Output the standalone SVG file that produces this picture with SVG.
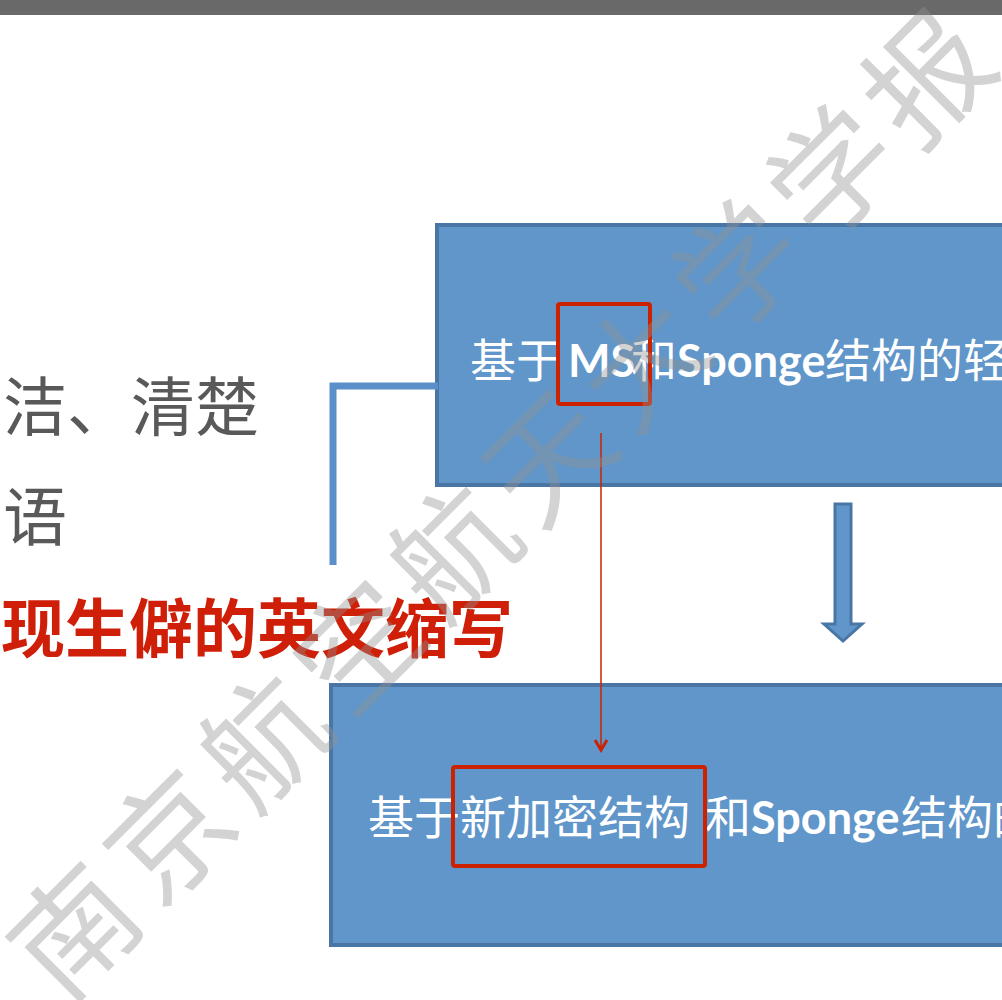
<svg xmlns="http://www.w3.org/2000/svg" width="1002" height="1000" viewBox="0 0 1002 1000">
<defs>
<style>
.box{fill:#6096c9;stroke:#4a76a6;stroke-width:4}
.cjk{font-family:"Noto Sans CJK SC",sans-serif}
.lat{font-family:Lato,"Open Sans","Noto Sans CJK SC",sans-serif;font-weight:bold}
.wt{fill:#ffffff;font-size:46px}
.hl{fill:none;stroke:#cc2200;stroke-width:4}
.gray{fill:#595959;font-size:64px}
.red{fill:#cf1f08;font-size:64px;font-weight:bold}
.wm{fill:#909090;fill-opacity:0.4;font-family:"Noto Sans CJK SC",serif;font-size:122px}
</style>
<marker id="redhead" markerWidth="14" markerHeight="14" refX="11" refY="7" orient="auto" markerUnits="userSpaceOnUse">
<path d="M1,1 L11,7 L1,13" fill="none" stroke="#cc2200" stroke-width="3"/>
</marker>
</defs>
<rect x="0" y="0" width="1002" height="15" fill="#696969"/>
<g id="left-text">
<text class="cjk gray" x="3" y="430">洁、清楚</text>
<text class="cjk gray" x="3" y="540">语</text>
<text class="cjk red" x="1" y="652">现生僻的英文缩写</text>
</g>
<g id="node-box1">
<rect class="box" x="437" y="225" width="620" height="260"/>
<text class="wt" y="377"><tspan class="cjk" x="470">基于</tspan><tspan class="lat" x="568" font-size="45">MS</tspan><tspan class="cjk" x="631">和</tspan><tspan class="lat" x="677" font-size="45">Sponge</tspan><tspan class="cjk" x="825">结构的轻</tspan></text>
<rect class="hl" x="558" y="304" width="92" height="100" rx="2"/>
</g>
<g id="node-box2">
<rect class="box" x="331" y="685" width="720" height="260"/>
<text class="wt" y="834" font-size="47"><tspan class="cjk" x="368">基于新加密结构</tspan><tspan class="cjk" x="705">和</tspan><tspan class="lat" x="751" font-size="45">Sponge</tspan><tspan class="cjk" x="901">结构的</tspan></text>
<rect class="hl" x="453" y="767" width="252" height="99" rx="2"/>
</g>
<g id="connectors">
<polyline points="333,565 333,386 438,386" fill="none" stroke="#5b8fca" stroke-width="7"/>
<line x1="601" y1="433" x2="601" y2="750" stroke="#cc2200" stroke-width="1.5" marker-end="url(#redhead)"/>
<path d="M835,504 L851,504 L851,624 L862,624 L843,641 L824,624 L835,624 Z" fill="#6096c9" stroke="#4a76a6" stroke-width="3" stroke-linejoin="miter"/>
</g>
<g id="watermark">
<text class="wm" transform="translate(537,532) rotate(-45)" x="0" y="0" text-anchor="middle" letter-spacing="12">南京航空航天大学学报</text>
</g>
</svg>
